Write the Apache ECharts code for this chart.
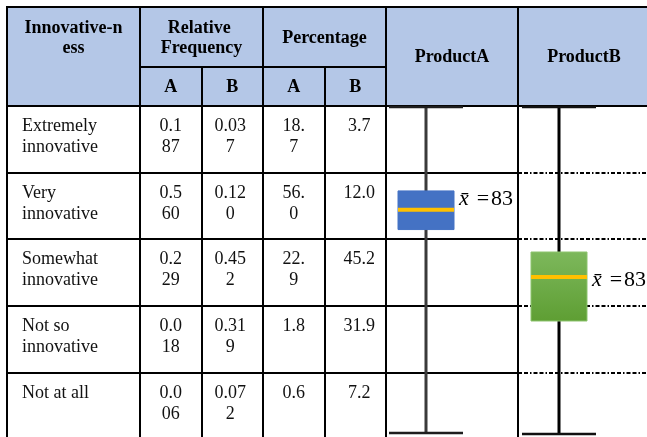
<!DOCTYPE html>
<html>
<head>
<meta charset="utf-8">
<script src="https://cdn.jsdelivr.net/npm/echarts@6/dist/echarts.min.js"></script>
<style>
  html, body { margin: 0; padding: 0; background: #fff; }
  #chart { width: 647px; height: 437px; }
</style>
</head>
<body>
<div id="chart"></div>
<script>
// ---- table content ----
const categories = ['Extremely innovative', 'Very innovative', 'Somewhat innovative', 'Not so innovative', 'Not at all'];
const relFreqA = [0.187, 0.560, 0.229, 0.018, 0.006];
const relFreqB = [0.037, 0.120, 0.452, 0.319, 0.072];
const percentA = [18.7, 56.0, 22.9, 1.8, 0.6];
const percentB = [3.7, 12.0, 45.2, 31.9, 7.2];

// ---- header labels ----
const firstHeader = 'Innovative-ness';
const groupHeaders = ['Relative Frequency', 'Percentage'];
const subHeaders = ['A', 'B', 'A', 'B'];
const products = ['ProductA', 'ProductB'];

// ---- box plot statistics: [min, Q1, Q3, max] and mean ----
const statsA = [46, 79.7, 86.1, 100];
const statsB = [67.3, 78.6, 85.5, 100];
const meanA = 83;
const meanB = 83;

// ---- styling ----
const SERIF = "'Liberation Serif', 'Times New Roman', serif";
const HEADER_BG = '#B4C7E7';
const LINE = '#000';
const numericColumns = [
  { values: relFreqA, digits: 3, wrap: 3, shift: 0 },
  { values: relFreqB, digits: 3, wrap: 4, shift: -2 },
  { values: percentA, digits: 1, wrap: 3, shift: 0 },
  { values: percentB, digits: 1, wrap: 4, shift: 4 }
];

function wrapChars(s, n) {
  return s.match(new RegExp('.{1,' + n + '}', 'g')).join('\n');
}

function headerAxis(gridIndex, data, opts) {
  return Object.assign({
    type: 'category',
    gridIndex: gridIndex,
    position: 'top',
    data: data,
    z: 3,
    axisLine: { show: true, lineStyle: { color: LINE, width: 2 } },
    axisTick: { show: true, interval: 0, length: 99, lineStyle: { color: LINE, width: 2 } },
    axisLabel: {
      interval: 0, color: '#000', fontFamily: SERIF, fontSize: 18, fontWeight: 'bold',
      lineHeight: 20, verticalAlign: 'middle', margin: 49
    },
    splitLine: { show: true, interval: 0, lineStyle: { color: LINE, width: 2 } }
  }, opts);
}

function rowAxis(gridIndex, lineType) {
  return {
    type: 'category', gridIndex: gridIndex, inverse: true, data: categories,
    axisLine: { show: false }, axisTick: { show: false }, axisLabel: { show: false },
    splitLine: { show: true, interval: 0, lineStyle: { color: LINE, width: 2, type: lineType } }
  };
}

function boxRenderer(look) {
  return function (params, api) {
    const cx = api.coord([0, api.value(1)])[0];
    const y = i => api.coord([0, api.value(i)])[1];
    const yMin = y(1), yQ1 = y(2), yQ3 = y(3), yMax = y(4), yMean = y(5);
    const halfBox = 28, halfCap = 37;
    return {
      type: 'group',
      children: [
        { type: 'line', shape: { x1: cx, y1: yMax, x2: cx, y2: yMin },
          style: { stroke: look.whisker, lineWidth: 3 } },
        { type: 'line', shape: { x1: cx - halfCap, y1: yMax, x2: cx + halfCap, y2: yMax },
          style: { stroke: look.cap, lineWidth: 2.5 } },
        { type: 'line', shape: { x1: cx - halfCap, y1: yMin, x2: cx + halfCap, y2: yMin },
          style: { stroke: look.cap, lineWidth: 2.5 } },
        { type: 'rect', shape: { x: cx - halfBox, y: yQ3, width: halfBox * 2, height: yQ1 - yQ3 },
          style: { fill: look.fill, stroke: look.edge, lineWidth: 1 } },
        { type: 'line', shape: { x1: cx - halfBox, y1: yMean, x2: cx + halfBox, y2: yMean },
          style: { stroke: '#FFC000', lineWidth: 4 } },
        { type: 'text', x: cx + 33, y: yMean + look.labelDy,
          style: {
            text: '{m|x\u0304}{e|=\u200A' + api.value(5) + '}',
            verticalAlign: 'middle', align: 'left', fill: '#000',
            rich: {
              m: { fontFamily: SERIF, fontSize: 22, fontStyle: 'italic', padding: [0, 8, 0, 0], fill: '#000' },
              e: { fontFamily: SERIF, fontSize: 22, fill: '#000' }
            }
          } }
      ]
    };
  };
}

const chart = echarts.init(document.getElementById('chart'), null, { renderer: 'canvas' });

const gridBase = { outerBoundsMode: 'none', containLabel: false };
const option = {
  animation: false,
  backgroundColor: '#fff',
  graphic: [
    { type: 'rect', z: -1, silent: true,
      shape: { x: 7, y: 7, width: 650, height: 99 },
      style: { fill: HEADER_BG, stroke: LINE, lineWidth: 2 } }
  ],
  grid: [
    Object.assign({ left: 7, top: 106, width: 133, height: 333 }, gridBase),   // category column
    Object.assign({ left: 140, top: 106, width: 246, height: 333 }, gridBase), // numeric columns
    Object.assign({ left: 386, top: 106, width: 132, height: 333 }, gridBase), // ProductA column
    Object.assign({ left: 518, top: 106, width: 132, height: 333 }, gridBase), // ProductB column
    Object.assign({ left: 386, top: 107, width: 80, height: 326 }, gridBase),  // ProductA box plot
    Object.assign({ left: 518, top: 107, width: 82, height: 327 }, gridBase)   // ProductB box plot
  ],
  xAxis: [
    headerAxis(0, [firstHeader], {
      axisLabel: { interval: 0, color: '#000', fontFamily: SERIF, fontSize: 18, fontWeight: 'bold',
        lineHeight: 20, verticalAlign: 'middle', margin: 68, width: 102, overflow: 'breakAll' }
    }),
    headerAxis(1, subHeaders, {
      axisTick: { show: true, interval: 0, length: 39, lineStyle: { color: LINE, width: 2 } },
      axisLabel: { interval: 0, color: '#000', fontFamily: SERIF, fontSize: 18, fontWeight: 'bold',
        verticalAlign: 'middle', margin: 19 }
    }),
    headerAxis(1, groupHeaders, {
      offset: 39,
      axisTick: { show: true, interval: 0, length: 60, lineStyle: { color: LINE, width: 2 } },
      axisLabel: { interval: 0, color: '#000', fontFamily: SERIF, fontSize: 18, fontWeight: 'bold',
        lineHeight: 20, verticalAlign: 'middle', margin: 29, width: 115, overflow: 'break' },
      splitLine: { show: false }
    }),
    headerAxis(2, [products[0]]),
    headerAxis(3, [products[1]], { splitLine: { show: false } }),
    { type: 'category', gridIndex: 4, data: [products[0]], show: false },
    { type: 'category', gridIndex: 5, data: [products[1]], show: false }
  ],
  yAxis: [
    rowAxis(0, 'solid'),
    rowAxis(1, 'solid'),
    rowAxis(2, 'solid'),
    rowAxis(3, [4, 2, 4, 2, 1.5, 2]),
    { type: 'value', gridIndex: 4, min: statsA[0], max: statsA[3], show: false },
    { type: 'value', gridIndex: 5, min: statsB[0], max: statsB[3], show: false }
  ],
  series: [
    {
      // category names, top-left aligned in their cells
      type: 'custom', xAxisIndex: 0, yAxisIndex: 0, clip: false, z: 5,
      data: categories.map((c, i) => [0, i]),
      renderItem: function (params, api) {
        const p = api.coord([0, api.value(1)]);
        const s = api.size([1, 1]);
        return {
          type: 'text', x: p[0] - s[0] / 2 + 15, y: p[1] - s[1] / 2 + 10,
          style: {
            text: categories[api.value(1)], fill: '#111', fontFamily: SERIF, fontSize: 18,
            lineHeight: 21, width: 112, overflow: 'break', align: 'left', verticalAlign: 'top'
          }
        };
      }
    },
    {
      // numeric cells, wrapped to the column's character width
      type: 'custom', xAxisIndex: 1, yAxisIndex: 1, clip: false, z: 5,
      data: numericColumns.flatMap((col, c) => col.values.map((v, r) => [c, r])),
      renderItem: function (params, api) {
        const c = api.value(0), r = api.value(1);
        const col = numericColumns[c];
        const p = api.coord([c, r]);
        const s = api.size([1, 1]);
        return {
          type: 'text', x: p[0] + col.shift, y: p[1] - s[1] / 2 + 10,
          style: {
            text: wrapChars(col.values[r].toFixed(col.digits), col.wrap), fill: '#111',
            fontFamily: SERIF, fontSize: 18, lineHeight: 21, align: 'center', verticalAlign: 'top'
          }
        };
      }
    },
    {
      type: 'custom', xAxisIndex: 5, yAxisIndex: 4, clip: false, z: 4,
      data: [[0, statsA[0], statsA[1], statsA[2], statsA[3], meanA]],
      encode: { x: 0, y: [1, 2, 3, 4, 5] },
      renderItem: boxRenderer({ whisker: '#3a3a3a', cap: '#1e1e1e', fill: '#4472C4', edge: '#4472C4', labelDy: -10 })
    },
    {
      type: 'custom', xAxisIndex: 6, yAxisIndex: 5, clip: false, z: 4,
      data: [[0, statsB[0], statsB[1], statsB[2], statsB[3], meanB]],
      encode: { x: 0, y: [1, 2, 3, 4, 5] },
      renderItem: boxRenderer({
        whisker: '#000', cap: '#111',
        fill: { type: 'linear', x: 0, y: 0, x2: 0, y2: 1,
          colorStops: [{ offset: 0, color: '#7DB85C' }, { offset: 1, color: '#5E9E33' }] },
        edge: '#8DC46E', labelDy: 3
      })
    }
  ]
};

chart.setOption(option);
</script>
</body>
</html>
